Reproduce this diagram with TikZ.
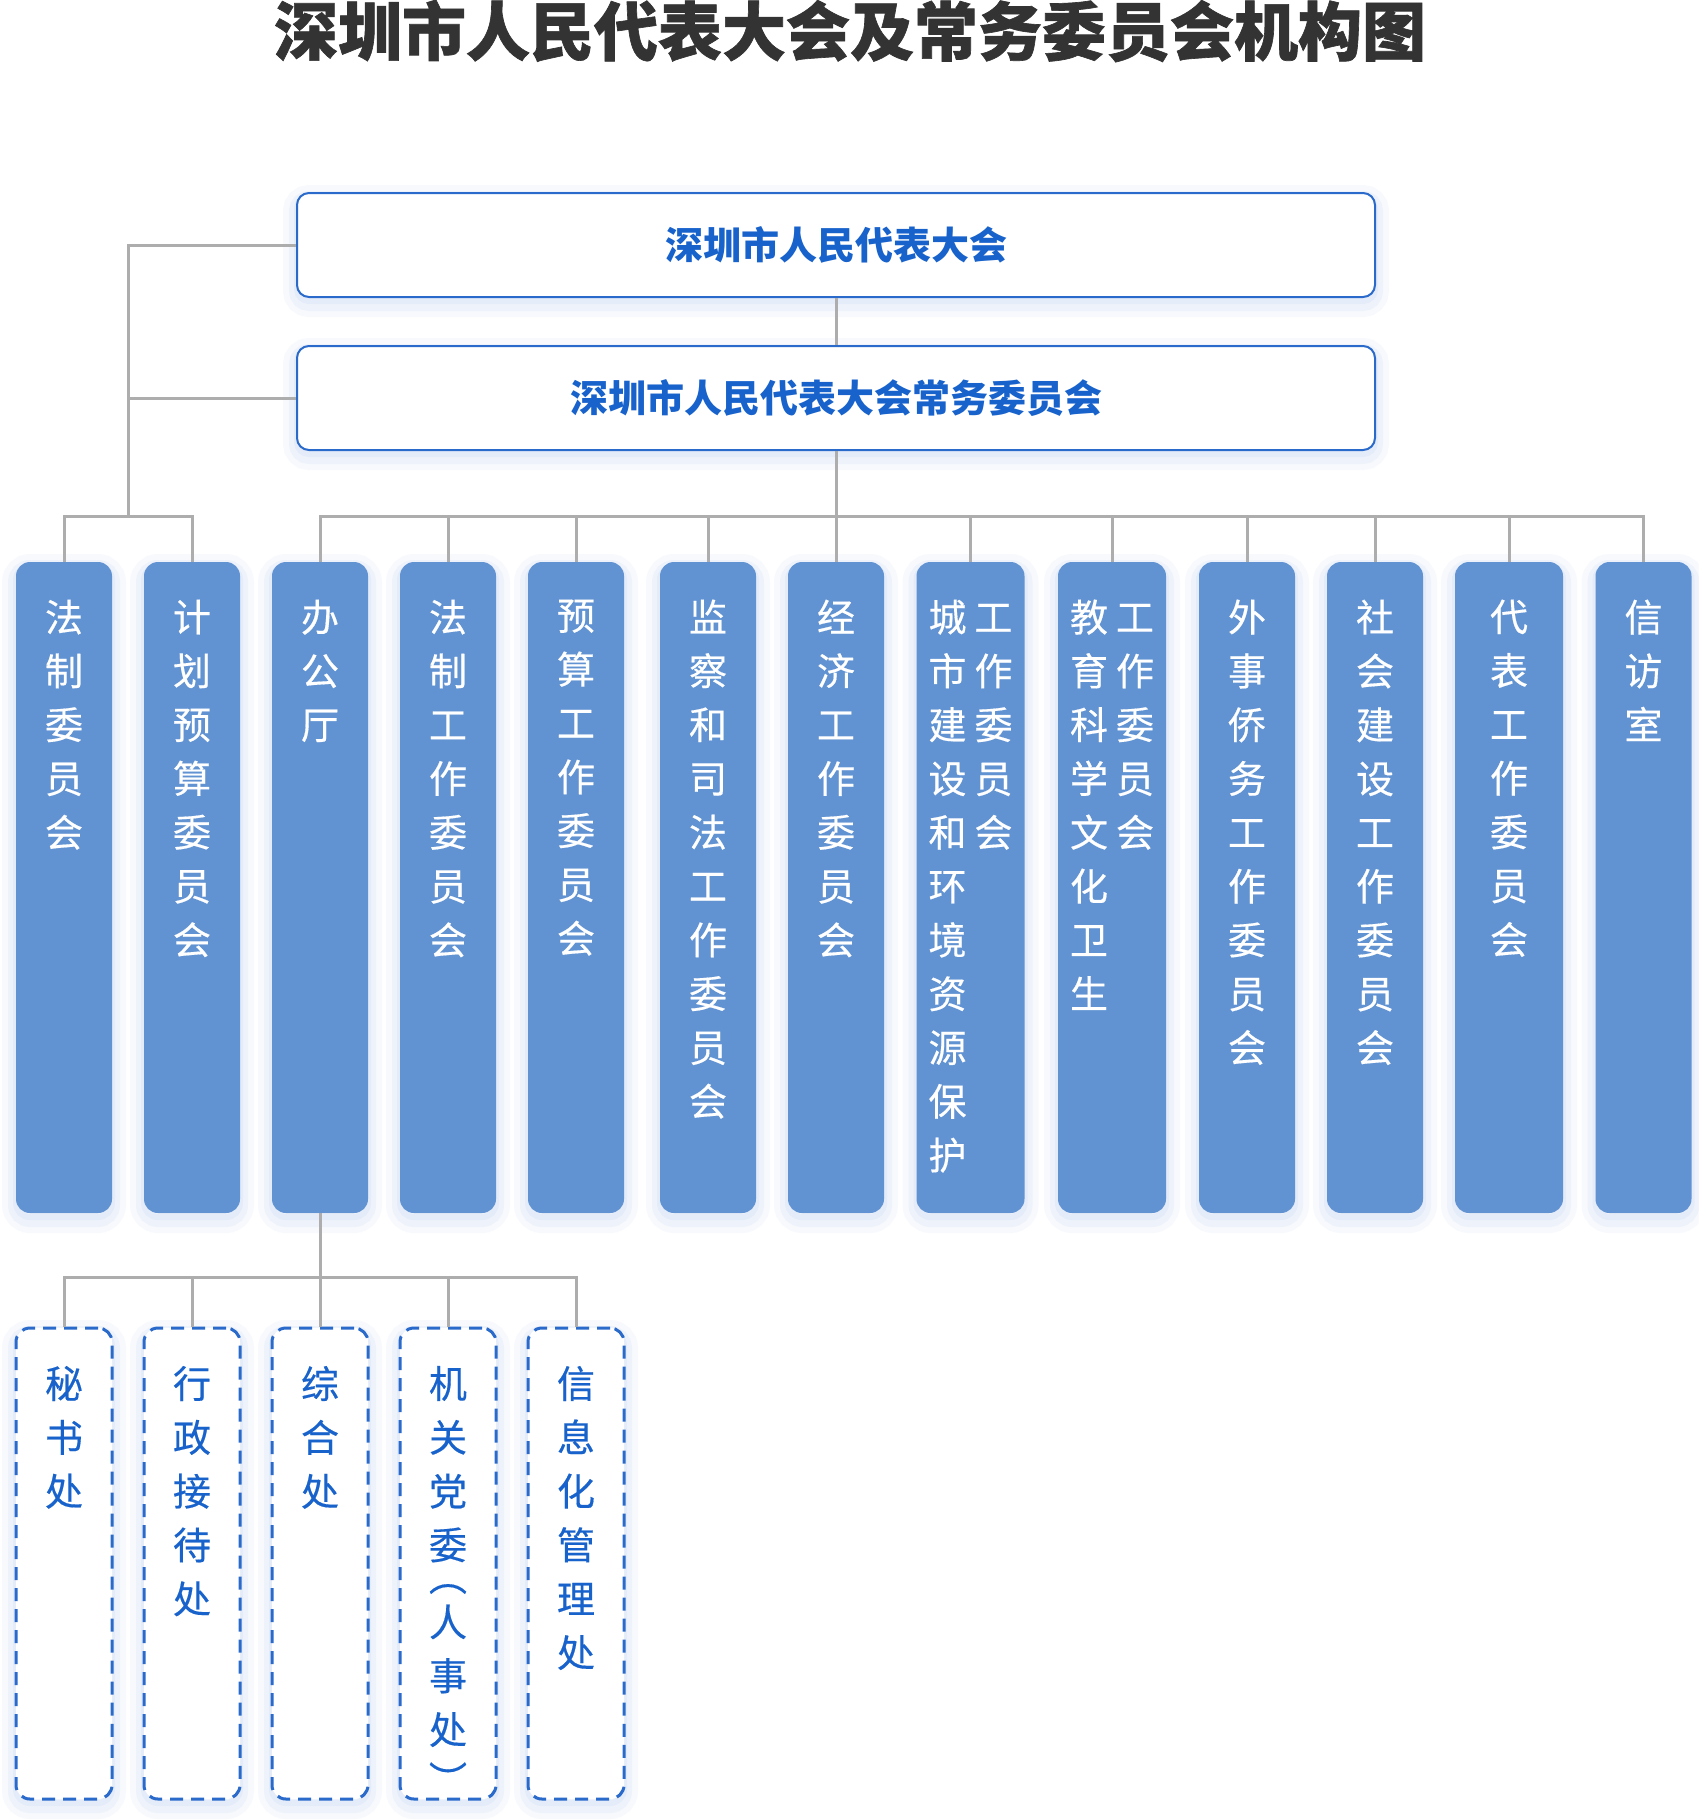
\documentclass[tikz,border=0pt]{standalone}
\usepackage{fontspec}
\usepackage{graphicx}
\setmainfont{Noto Sans CJK SC}
\newfontfamily\boxfont[FakeBold=0.4]{Noto Sans CJK SC}
\definecolor{boxblue}{HTML}{6193D3}
\definecolor{lineblue}{HTML}{2A6ACB}
\definecolor{txtblue}{HTML}{1862CC}
\definecolor{linegray}{HTML}{ADADAD}
\definecolor{titlegray}{HTML}{333333}
\definecolor{glowc}{HTML}{B8CDF0}
\newcommand{\mainh}{325.5pt}
\newcommand{\subh}{235.5pt}
\newcommand{\vtxt}[4]{\parbox[c][#1][t]{#2}{\centering\boxfont\fontsize{19}{26.9}\selectfont\vspace*{#3}#4\par}}
\newcommand{\vpair}[2]{\parbox[t]{19pt}{\centering #1}\hspace{4pt}\parbox[t]{19pt}{\centering #2}}
\newcommand{\lpar}{\rotatebox[origin=c]{-90}{（}}
\newcommand{\rpar}{\rotatebox[origin=c]{-90}{）}}
\begin{document}
\begin{tikzpicture}[x=0.5pt,y=-0.5pt,
  glow/.style={preaction={draw=glowc,solid,line width=14pt,draw opacity=0.10,transform canvas={yshift=-3pt}},
               preaction={draw=glowc,solid,line width=8pt,draw opacity=0.14,transform canvas={yshift=-3pt}},
               preaction={draw=glowc,solid,line width=3pt,draw opacity=0.18,transform canvas={yshift=-2pt}}},
  titlestyle/.style={text=titlegray,font=\bfseries\fontsize{32}{36}\selectfont\addfontfeatures{FakeBold=1},inner sep=0pt},
  topbox/.style={glow,draw=lineblue,line width=1pt,rounded corners=6pt,fill=white,minimum width=539pt,minimum height=52pt,inner sep=0pt,text=txtblue,font=\bfseries\fontsize{19}{21}\selectfont},
  mainbox/.style={glow,fill=boxblue,draw=none,rounded corners=7pt,inner sep=0pt,text=white},
  subbox/.style={glow,draw=lineblue,line width=1.5pt,dash pattern=on 6.5pt off 4pt,rounded corners=7pt,fill=white,inner sep=0pt,text=txtblue},
  conn/.style={draw=linegray,line width=1.5pt}]
\useasboundingbox (0,0) rectangle (1698,1820);
\fill[white] (0,0) rectangle (1698,1820);
\node[titlestyle] (title) at (850,31) {深圳市人民代表大会及常务委员会机构图};
\node[topbox] (npc) at (836,245) {深圳市人民代表大会};
\node[topbox] (std) at (836,398) {深圳市人民代表大会常务委员会};
% main boxes
\node[mainbox] (b1) at (64,887.5) {\vtxt{\mainh}{48pt}{18.8pt}{法\\制\\委\\员\\会}};
\node[mainbox] (b2) at (192,887.5) {\vtxt{\mainh}{48pt}{18.8pt}{计\\划\\预\\算\\委\\员\\会}};
\node[mainbox] (b3) at (320,887.5) {\vtxt{\mainh}{48pt}{18.8pt}{办\\公\\厅}};
\node[mainbox] (b4) at (448,887.5) {\vtxt{\mainh}{48pt}{18.8pt}{法\\制\\工\\作\\委\\员\\会}};
\node[mainbox] (b5) at (576,887.5) {\vtxt{\mainh}{48pt}{18.8pt}{预\\算\\工\\作\\委\\员\\会}};
\node[mainbox] (b6) at (708,887.5) {\vtxt{\mainh}{48pt}{18.8pt}{监\\察\\和\\司\\法\\工\\作\\委\\员\\会}};
\node[mainbox] (b7) at (836,887.5) {\vtxt{\mainh}{48pt}{18.8pt}{经\\济\\工\\作\\委\\员\\会}};
\node[mainbox] (b8) at (970.5,887.5) {\vtxt{\mainh}{54pt}{18.8pt}{\vpair{城\\市\\建\\设\\和\\环\\境\\资\\源\\保\\护}{工\\作\\委\\员\\会}}};
\node[mainbox] (b9) at (1112,887.5) {\vtxt{\mainh}{54pt}{18.8pt}{\vpair{教\\育\\科\\学\\文\\化\\卫\\生}{工\\作\\委\\员\\会}}};
\node[mainbox] (b10) at (1247,887.5) {\vtxt{\mainh}{48pt}{18.8pt}{外\\事\\侨\\务\\工\\作\\委\\员\\会}};
\node[mainbox] (b11) at (1375,887.5) {\vtxt{\mainh}{48pt}{18.8pt}{社\\会\\建\\设\\工\\作\\委\\员\\会}};
\node[mainbox] (b12) at (1509,887.5) {\vtxt{\mainh}{54pt}{18.8pt}{代\\表\\工\\作\\委\\员\\会}};
\node[mainbox] (b13) at (1643.5,887.5) {\vtxt{\mainh}{48pt}{18.8pt}{信\\访\\室}};
% sub boxes
\node[subbox] (s1) at (64,1563.5) {\vtxt{\subh}{48pt}{19pt}{秘\\书\\处}};
\node[subbox] (s2) at (192,1563.5) {\vtxt{\subh}{48pt}{19pt}{行\\政\\接\\待\\处}};
\node[subbox] (s3) at (320,1563.5) {\vtxt{\subh}{48pt}{19pt}{综\\合\\处}};
\node[subbox] (s4) at (448,1563.5) {\vtxt{\subh}{48pt}{19pt}{机\\关\\党\\委\\[-11pt]\lpar\\[-4.3pt]人\\事\\处\\[-1.8pt]\rpar}};
\node[subbox] (s5) at (576,1563.5) {\vtxt{\subh}{48pt}{19pt}{信\\息\\化\\管\\理\\处}};
% connectors
\coordinate (lb) at (128,517);
\draw[conn] (npc.south) -- (std.north);
\draw[conn] (std.south) -- (b7.north);
\draw[conn] (b3.north) -- ++(0,-45) -| (b13.north);
\foreach \n in {b4,b5,b6,b8,b9,b10,b11,b12} \draw[conn] (\n.north) -- ++(0,-45);
\draw[conn] (b1.north) -- ++(0,-45) -| (b2.north);
\draw[conn] (lb) |- (npc.west);
\draw[conn] (lb) |- (std.west);
\draw[conn] (b3.south) -- (s3.north);
\draw[conn] (s1.north) -- ++(0,-49) -| (s5.north);
\foreach \n in {s2,s4} \draw[conn] (\n.north) -- ++(0,-49);
\end{tikzpicture}
\end{document}
